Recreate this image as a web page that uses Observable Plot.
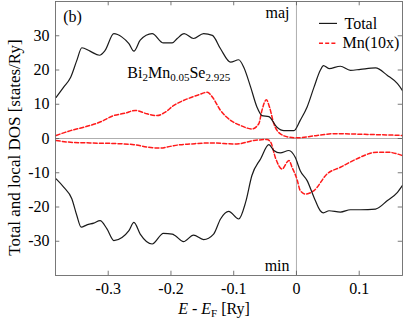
<!DOCTYPE html>
<html>
<head>
<meta charset="utf-8">
<script src="https://cdn.jsdelivr.net/npm/d3@7"></script>
<script src="https://cdn.jsdelivr.net/npm/@observablehq/plot@0.6"></script>
<style>
  html, body { margin: 0; padding: 0; background: #fff; }
  #chart { width: 403px; height: 326px; }
  #chart svg, #chart svg text, #chart svg g { font-family: "Liberation Serif", serif !important; }
</style>
</head>
<body>
<div id="chart"></div>
<script>
// ---- data ----
const totMajE = [-0.383,-0.371,-0.360,-0.350,-0.342,-0.329,-0.314,-0.305,-0.291,-0.278,-0.267,-0.259,-0.249,-0.230,-0.212,-0.198,-0.190,-0.179,-0.164,-0.148,-0.134,-0.121,-0.105,-0.092,-0.084,-0.073,-0.063,-0.055,-0.044,-0.031,-0.020,-0.004,0.006,0.017,0.028,0.038,0.043,0.052,0.070,0.086,0.102,0.126,0.145,0.161,0.169];
const totMajV = [12.0,15.0,17.8,22.8,26.5,25.5,24.3,25.7,30.6,29.6,27.7,25.5,28.7,30.6,27.9,27.9,29.2,30.6,29.2,30.6,30.1,26.2,22.3,23.0,20.8,15.0,9.2,6.7,6.4,3.3,2.3,2.3,5.3,9.2,15.0,19.9,21.3,20.4,21.1,19.9,20.2,20.6,18.4,16.0,14.0];

const mnMajE = [-0.383,-0.360,-0.339,-0.313,-0.291,-0.273,-0.257,-0.238,-0.222,-0.209,-0.196,-0.180,-0.158,-0.142,-0.134,-0.121,-0.105,-0.089,-0.071,-0.060,-0.055,-0.048,-0.043,-0.036,-0.026,-0.012,0.001,0.033,0.060,0.113,0.169];
const mnMajV = [0.9,2.3,3.3,4.8,6.7,7.4,8.2,7.2,6.7,7.7,9.6,11.1,12.6,13.5,12.1,8.2,5.3,3.8,2.8,4.3,8.2,11.3,9.2,4.3,1.4,0.4,0.2,0.9,1.4,1.2,0.9];

const totMinE = [-0.383,-0.371,-0.358,-0.350,-0.343,-0.334,-0.323,-0.313,-0.302,-0.291,-0.278,-0.267,-0.259,-0.249,-0.230,-0.212,-0.198,-0.193,-0.180,-0.164,-0.148,-0.132,-0.121,-0.108,-0.092,-0.081,-0.071,-0.057,-0.044,-0.036,-0.026,-0.012,-0.002,0.006,0.017,0.028,0.038,0.043,0.052,0.070,0.086,0.102,0.126,0.145,0.161,0.169];
const totMinV = [-11.8,-14.2,-17.6,-22.5,-25.9,-25.2,-24.7,-24.0,-26.4,-29.8,-28.9,-26.9,-24.5,-27.9,-30.8,-27.7,-27.9,-28.4,-30.1,-28.2,-29.5,-27.9,-23.5,-21.3,-23.5,-18.6,-10.8,-5.9,-1.8,-3.5,-4.2,-3.5,-5.5,-9.4,-12.3,-17.2,-21.1,-21.7,-21.1,-21.5,-20.8,-20.8,-20.6,-18.1,-15.7,-13.7];

const mnMinE = [-0.383,-0.360,-0.329,-0.286,-0.259,-0.238,-0.217,-0.201,-0.185,-0.169,-0.137,-0.095,-0.068,-0.047,-0.041,-0.033,-0.023,-0.012,-0.007,0.001,0.006,0.014,0.028,0.049,0.070,0.091,0.129,0.145,0.169];
const mnMinV = [-0.6,-1.1,-1.3,-1.5,-1.8,-2.5,-2.8,-2.3,-1.8,-1.6,-1.3,-1.6,-0.6,-0.3,-1.1,-5.9,-8.9,-6.4,-8.4,-12.0,-15.2,-16.2,-15.2,-10.3,-8.4,-6.4,-4.0,-4.0,-5.0];

const xTicks = [-0.3, -0.2, -0.1, 0, 0.1];
const yTicks = [-30, -20, -10, 0, 10, 20, 30];
const xDomain = [-0.384, 0.169];
const yDomain = [-40, 40];
const legendLabels = ["Total", "Mn(10x)"];
const panelLabel = "(b)";
const formula = "Bi2Mn0.05Se2.925";
const spinLabels = ["maj", "min"];
const xLabel = "E - EF [Ry]";
const yLabel = "Total and local DOS [states/Ry]";

// ---- build ----
const zip = (E, V) => E.map((e, i) => ({e, v: V[i]}));
const totMaj = zip(totMajE, totMajV);
const totMin = zip(totMinE, totMinV);
const mnMaj = zip(mnMajE, mnMajV);
const mnMin = zip(mnMinE, mnMinV);

const FONT = "'Liberation Serif', serif";
const black = "#1a1a1a";
const red = "#ff1a1a";
const tickColor = "#555";
const xTickLen = 0.0068;   // in data units of x (≈4px)
const yTickLen = 1.25;     // in data units of y (≈4px)

const chart = Plot.plot({
  width: 403,
  height: 326,
  marginLeft: 55,
  marginRight: 1,
  marginTop: 1,
  marginBottom: 51,
  style: {fontFamily: FONT, fontSize: "16px", background: "#fff", color: "#000"},
  x: {domain: xDomain, label: null},
  y: {domain: yDomain, label: null},
  marks: [
    // zero lines
    Plot.ruleY([0], {stroke: "#9a9a9a", strokeWidth: 0.8}),
    Plot.ruleX([0], {stroke: "#9a9a9a", strokeWidth: 0.8}),
    // inward ticks on all four sides
    Plot.ruleX(xTicks, {y1: yDomain[0], y2: yDomain[0] + yTickLen, stroke: tickColor, strokeWidth: 0.8}),
    Plot.ruleX(xTicks, {y1: yDomain[1], y2: yDomain[1] - yTickLen, stroke: tickColor, strokeWidth: 0.8}),
    Plot.ruleY(yTicks, {x1: xDomain[0], x2: xDomain[0] + xTickLen, stroke: tickColor, strokeWidth: 0.8}),
    Plot.ruleY(yTicks, {x1: xDomain[1], x2: xDomain[1] - xTickLen, stroke: tickColor, strokeWidth: 0.8}),
    // tick labels
    Plot.axisX({ticks: xTicks, tickSize: 0, tickPadding: 7, tickFormat: d => String(d), fontSize: 16, fontFamily: FONT, label: null}),
    Plot.axisY({ticks: yTicks, tickSize: 0, tickPadding: 6, tickFormat: d => String(d), fontSize: 16, fontFamily: FONT, label: null}),
    // curves
    Plot.line(mnMaj, {x: "e", y: "v", stroke: red, strokeWidth: 1.5, strokeDasharray: "4,2.2", curve: "monotone-x"}),
    Plot.line(mnMin, {x: "e", y: "v", stroke: red, strokeWidth: 1.5, strokeDasharray: "4,2.2", curve: "monotone-x"}),
    Plot.line(totMaj, {x: "e", y: "v", stroke: black, strokeWidth: 1.2, curve: "monotone-x"}),
    Plot.line(totMin, {x: "e", y: "v", stroke: black, strokeWidth: 1.2, curve: "monotone-x"}),
    // frame
    Plot.frame({stroke: "#6a6a6a", strokeWidth: 0.9}),
    // annotations
    Plot.text([panelLabel], {x: -0.3716, y: 35.4, text: d => d, textAnchor: "start", lineAnchor: "middle", fontSize: 16, fontFamily: FONT}),
    Plot.text([formula], {x: -0.2695, y: 19.3, text: d => d, textAnchor: "start", lineAnchor: "middle", fontSize: 16, fontFamily: FONT}),
    Plot.text([spinLabels[0]], {x: -0.011, y: 36.8, text: d => d, textAnchor: "end", lineAnchor: "middle", fontSize: 16, fontFamily: FONT}),
    Plot.text([spinLabels[1]], {x: -0.011, y: -37.1, text: d => d, textAnchor: "end", lineAnchor: "middle", fontSize: 16, fontFamily: FONT}),
    // legend
    Plot.ruleY([33.6], {x1: 0.0367, x2: 0.0654, stroke: black, strokeWidth: 1.2}),
    Plot.ruleY([27.8], {x1: 0.0367, x2: 0.0654, stroke: red, strokeWidth: 1.5, strokeDasharray: "4,2.2"}),
    Plot.text([legendLabels[0]], {x: 0.0766, y: 33.6, text: d => d, textAnchor: "start", lineAnchor: "middle", fontSize: 16, fontFamily: FONT}),
    Plot.text([legendLabels[1]], {x: 0.0734, y: 27.8, text: d => d, textAnchor: "start", lineAnchor: "middle", fontSize: 16, fontFamily: FONT}),
    // axis titles
    Plot.text([xLabel], {frameAnchor: "bottom", dx: -15, dy: 33.5, text: d => d, textAnchor: "middle", lineAnchor: "middle", fontSize: 16, fontFamily: FONT}),
    Plot.text([yLabel], {frameAnchor: "left", dx: -41, dy: 9, rotate: -90, text: d => d, textAnchor: "middle", lineAnchor: "middle", fontSize: 17, fontFamily: FONT})
  ]
});

document.getElementById("chart").appendChild(chart);

// ---- rich text (subscripts, italics) ----
const svg = d3.select(chart);
function rich(content, parts) {
  svg.selectAll("text").filter(function () { return this.textContent === content; }).each(function () {
    const t = d3.select(this);
    t.text(null);
    let shift = 0;
    for (const p of parts) {
      const s = t.append("tspan").text(p.t);
      const target = p.sub ? p.sub : 0;
      if (target !== shift) { s.attr("dy", (target - shift) + "px"); shift = target; }
      if (p.size) s.attr("font-size", p.size);
      if (p.italic) s.attr("font-style", "italic");
    }
  });
}
rich(formula, [
  {t: "Bi"}, {t: "2", sub: 3.5, size: "11px"},
  {t: "Mn"}, {t: "0.05", sub: 3.5, size: "11px"},
  {t: "Se"}, {t: "2.925", sub: 3.5, size: "11px"}
]);
rich(xLabel, [
  {t: "E", italic: true}, {t: " - "}, {t: "E", italic: true}, {t: "F", sub: 3, size: "11px"}, {t: " [Ry]"}
]);
</script>
</body>
</html>
